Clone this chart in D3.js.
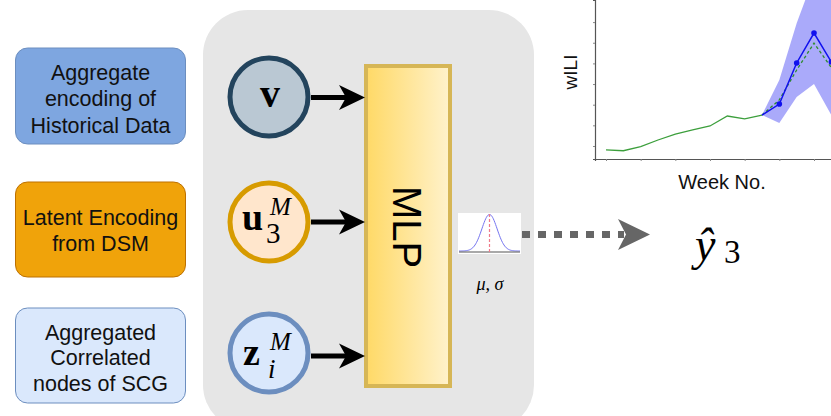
<!DOCTYPE html>
<html>
<head>
<meta charset="utf-8">
<script src="https://cdn.jsdelivr.net/npm/d3@7"></script>
<style>
  html, body { margin: 0; padding: 0; background: #ffffff; }
  svg { display: block; }
</style>
</head>
<body>
<svg id="fig" width="831" height="416"></svg>
<script>
// ---------------- data ----------------
const boxLabels = [
  ["Aggregate", "encoding of", "Historical Data"],
  ["Latent Encoding", "from DSM"],
  ["Aggregated", "Correlated", "nodes of SCG"]
];
const historyWeeks = [0, 1, 2, 3, 4, 5, 6, 7, 8, 9];
const historyWILI = [0.81, 0.77, 0.97, 1.29, 1.58, 1.78, 1.97, 2.45, 2.31, 2.50];
const forecastWeeks = [9, 10, 11, 12, 13];
const forecastMean = [2.50, 3.03, 5.02, 6.47, 5.07];
const truthWILI = [2.50, 3.23, 4.68, 5.98, 4.80];
const upperBound = [2.50, 4.19, 6.95, 9.20, 8.60];
const lowerBound = [2.50, 2.11, 3.37, 4.00, 2.50];
const xTickWeeks = [0, 2, 4, 6, 8, 10, 12];
const yTickValues = [1, 2, 3, 4, 5, 6, 7];
const xAxisTitle = "Week No.";
const yAxisTitle = "wILI";
const mlpLabel = "MLP";
const distMu = 0, distSigma = 1;

const svg = d3.select("#fig");
const serif = "'Liberation Serif','DejaVu Serif',serif";
const sans = "'Liberation Sans',Arial,Helvetica,sans-serif";

// ---------------- left description boxes ----------------
const boxStyles = [
  {y: 48, h: 96, fill: "#7ea6e0", stroke: "#6c8ebf", lines: [72, 98.5, 125]},
  {y: 182, h: 95, fill: "#f0a30a", stroke: "#bd7000", lines: [217, 243.5]},
  {y: 308, h: 95, fill: "#dae8fc", stroke: "#6c8ebf", lines: [332, 357.5, 383]}
];
boxLabels.forEach((lines, i) => {
  const s = boxStyles[i];
  svg.append("rect").attr("x", 15.5).attr("y", s.y).attr("width", 170).attr("height", s.h)
    .attr("rx", 12).attr("fill", s.fill).attr("stroke", s.stroke).attr("stroke-width", 1);
  lines.forEach((t, j) => {
    svg.append("text").attr("x", 100.5).attr("y", s.lines[j]).attr("dy", "0.35em")
      .attr("text-anchor", "middle").attr("font-family", sans).attr("font-size", 21.5)
      .attr("fill", "#111").text(t);
  });
});

// ---------------- grey container ----------------
svg.append("rect").attr("x", 203).attr("y", 10).attr("width", 331).attr("height", 420)
  .attr("rx", 45).attr("fill", "#e6e6e6");

// MLP gradient block
const defs = svg.append("defs");
const grad = defs.append("linearGradient").attr("id", "mlpGrad").attr("x1", "0").attr("x2", "1").attr("y1", "0").attr("y2", "0");
grad.append("stop").attr("offset", "0").attr("stop-color", "#ffd966");
grad.append("stop").attr("offset", "1").attr("stop-color", "#fff2cc");
svg.append("rect").attr("x", 366).attr("y", 66).attr("width", 84).attr("height", 320)
  .attr("fill", "url(#mlpGrad)").attr("stroke", "#d6b656").attr("stroke-width", 4);
svg.append("text").attr("transform", "translate(407,227) rotate(90)")
  .attr("text-anchor", "middle").attr("dy", "0.35em")
  .attr("font-family", sans).attr("font-size", 40).attr("fill", "#000").text(mlpLabel);

// circles
const nodes = [
  {cy: 97, fill: "#bac8d3", stroke: "#23445d", ay: 97.5},
  {cy: 222, fill: "#ffe6cc", stroke: "#d79b00", ay: 222},
  {cy: 353, fill: "#dae8fc", stroke: "#6c8ebf", ay: 356}
];
nodes.forEach(n => {
  svg.append("circle").attr("cx", 269).attr("cy", n.cy).attr("r", 39)
    .attr("fill", n.fill).attr("stroke", n.stroke).attr("stroke-width", 5);
  svg.append("line").attr("x1", 311).attr("x2", 346).attr("y1", n.ay).attr("y2", n.ay)
    .attr("stroke", "#000").attr("stroke-width", 5);
  svg.append("path")
    .attr("d", `M365,${n.ay} L339,${n.ay - 12.5} L346,${n.ay} L339,${n.ay + 12.5} Z`)
    .attr("fill", "#000");
});

// node labels (math) - one text element each, with tspans
svg.append("text").attr("x", 270).attr("y", 107).attr("text-anchor", "middle")
  .attr("font-family", serif).attr("font-weight", "bold").attr("font-size", 40).text("v");

function mathNode(x0, base, body, sup, sub, subItalic, supX, supY, subX, subY) {
  const t = svg.append("text").attr("font-family", serif).attr("fill", "#000");
  t.append("tspan").attr("x", x0).attr("y", base).attr("font-weight", "bold").attr("font-size", 38).text(body);
  t.append("tspan").attr("x", supX).attr("y", supY).attr("font-style", "italic").attr("font-size", 25).text(sup);
  t.append("tspan").attr("x", subX).attr("y", subY).attr("font-style", subItalic ? "italic" : "normal")
    .attr("font-size", subItalic ? 27 : 29).text(sub);
}
mathNode(242, 230, "u", "M", "3", false, 270, 215, 266, 243);
mathNode(243, 365, "z", "M", "i", true, 270, 350, 268, 378);

// ---------------- distribution icon ----------------
svg.append("rect").attr("x", 458).attr("y", 213).attr("width", 63).attr("height", 41).attr("fill", "#fff");
const dx = d3.scaleLinear().domain([-4, 4]).range([459, 520]);
const dy = d3.scaleLinear().domain([0, 1]).range([251, 214.5]);
const pdf = v => Math.exp(-0.5 * ((v - distMu) / distSigma) ** 2);
svg.append("path").datum(d3.range(-4, 4.001, 0.1))
  .attr("d", d3.line().x(d => dx(d)).y(d => dy(pdf(d))))
  .attr("fill", "none").attr("stroke", "#7474f0").attr("stroke-width", 1);
svg.append("line").attr("x1", 459).attr("x2", 520).attr("y1", 252).attr("y2", 252)
  .attr("stroke", "#555").attr("stroke-width", 1.2);
svg.append("line").attr("x1", dx(distMu)).attr("x2", dx(distMu)).attr("y1", 214).attr("y2", 252)
  .attr("stroke", "#f07a8a").attr("stroke-width", 1.2).attr("stroke-dasharray", "3,2");
svg.append("text").attr("x", 490).attr("y", 290).attr("text-anchor", "middle")
  .attr("font-family", serif).attr("font-style", "italic").attr("font-size", 18).text("μ, σ");

// dotted arrow
svg.append("line").attr("x1", 522).attr("x2", 624).attr("y1", 234.5).attr("y2", 234.5)
  .attr("stroke", "#666").attr("stroke-width", 7).attr("stroke-dasharray", "8,8");
svg.append("path").attr("d", "M650,234.5 L618,219 L626,234.5 L618,250 Z").attr("fill", "#666");

// y-hat with subscript
const yh = svg.append("text").attr("font-family", serif).attr("fill", "#000");
yh.append("tspan").attr("x", 695).attr("y", 260).attr("font-style", "italic").attr("font-size", 46).text("ŷ");
yh.append("tspan").attr("x", 724).attr("y", 263).attr("font-size", 33).text("3");

// ---------------- forecast chart ----------------
const x = d3.scaleLinear().domain([0, 12]).range([606, 814]);
const y = d3.scaleLinear().domain([0.37, 8.07]).range([159, 0]);
const xAxisScale = x.copy().domain([x.invert(595), x.invert(845)]).range([595, 845]);

svg.append("rect").attr("x", 595).attr("y", 0).attr("width", 236).attr("height", 159).attr("fill", "#fff");

const g = svg.append("g");
g.append("path").datum(forecastWeeks.map((w, i) => ({w, lo: lowerBound[i], hi: upperBound[i]})))
  .attr("d", d3.area().x(d => x(d.w)).y0(d => y(d.lo)).y1(d => y(d.hi)))
  .attr("fill", "#6464f5").attr("fill-opacity", 0.55);
g.append("path").datum(historyWeeks.map((w, i) => [w, historyWILI[i]]))
  .attr("d", d3.line().x(d => x(d[0])).y(d => y(d[1])))
  .attr("fill", "none").attr("stroke", "#3c9f3c").attr("stroke-width", 1.3);
g.append("path").datum(forecastWeeks.map((w, i) => [w, truthWILI[i]]))
  .attr("d", d3.line().x(d => x(d[0])).y(d => y(d[1])))
  .attr("fill", "none").attr("stroke", "#2e8b2e").attr("stroke-width", 1.3).attr("stroke-dasharray", "3,2.5");
g.append("path").datum(forecastWeeks.map((w, i) => [w, forecastMean[i]]))
  .attr("d", d3.line().x(d => x(d[0])).y(d => y(d[1])))
  .attr("fill", "none").attr("stroke", "#1010ee").attr("stroke-width", 1.5);
g.selectAll("circle.pt").data(forecastWeeks.slice(1).map((w, i) => [w, forecastMean[i + 1]]))
  .enter().append("circle").attr("class", "pt")
  .attr("cx", d => x(d[0])).attr("cy", d => y(d[1])).attr("r", 2.8).attr("fill", "#1010ee");

const xAxis = svg.append("g").attr("transform", "translate(0,159)")
  .call(d3.axisBottom(xAxisScale).tickValues(xTickWeeks).tickSize(2).tickFormat(""));
const yAxis = svg.append("g").attr("transform", "translate(595,0)")
  .call(d3.axisLeft(y).tickValues(yTickValues).tickSize(2).tickFormat(""));
[xAxis, yAxis].forEach(a => {
  a.select(".domain").attr("stroke", "#555").attr("stroke-width", 1.2);
  a.selectAll(".tick line").attr("stroke", "#888");
});
svg.append("text").attr("transform", "translate(577,72) rotate(-90)")
  .attr("text-anchor", "middle").attr("font-family", sans).attr("font-size", 19).attr("fill", "#111")
  .text(yAxisTitle);
svg.append("text").attr("x", 722).attr("y", 189).attr("text-anchor", "middle")
  .attr("font-family", sans).attr("font-size", 20).attr("fill", "#111").text(xAxisTitle);
</script>
</body>
</html>
